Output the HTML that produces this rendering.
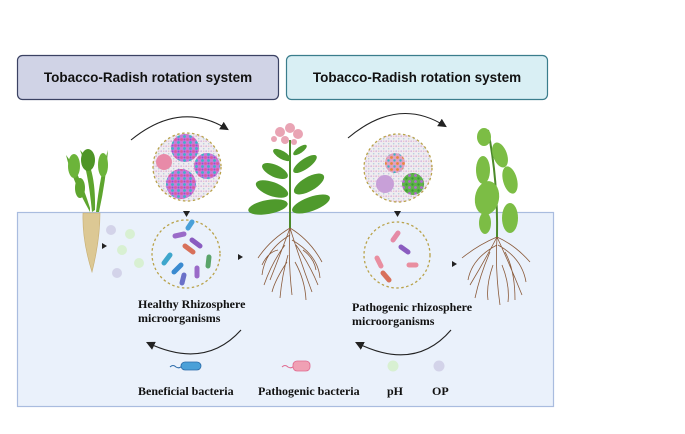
<!DOCTYPE html>
<html><head><meta charset="utf-8"><style>
html,body{margin:0;padding:0;background:#fff;}
svg{display:block;}
text{font-family:"Liberation Serif",serif;font-weight:bold;fill:#111;}
.h{font-family:"Liberation Sans",sans-serif;font-size:13.5px;}
</style></head><body>
<svg width="685" height="434" viewBox="0 0 685 434" xmlns="http://www.w3.org/2000/svg">
<defs>
<marker id="ah" markerWidth="8" markerHeight="8" refX="6" refY="4" orient="auto"><path d="M0,0 L8,4 L0,8 z" fill="#222"/></marker>
<pattern id="dp" width="6" height="6" patternUnits="userSpaceOnUse">
<rect width="6" height="6" fill="#c77ad8"/>
<circle cx="1.5" cy="1.5" r="1.4" fill="#e05a9a"/><circle cx="4.5" cy="4.5" r="1.4" fill="#3cb4c8"/><circle cx="4.5" cy="1.5" r="1" fill="#9b4fd0"/>
</pattern>
<pattern id="dg" width="6" height="6" patternUnits="userSpaceOnUse">
<rect width="6" height="6" fill="#5fb24a"/>
<circle cx="1.5" cy="1.5" r="1.4" fill="#b06ad0"/><circle cx="4.5" cy="4.5" r="1.2" fill="#3a9a34"/>
</pattern>
<pattern id="do" width="6" height="6" patternUnits="userSpaceOnUse">
<rect width="6" height="6" fill="#e0a0c0"/>
<circle cx="1.5" cy="1.5" r="1.4" fill="#e8883a"/><circle cx="4.5" cy="4.5" r="1.2" fill="#3cb4c8"/>
</pattern>
<pattern id="dl" width="5" height="5" patternUnits="userSpaceOnUse">
<rect width="5" height="5" fill="#efecf0"/>
<circle cx="1.2" cy="1.2" r="0.9" fill="#d8b8e0"/><circle cx="3.7" cy="3.7" r="0.8" fill="#b8d0dc"/><circle cx="3.7" cy="1.2" r="0.7" fill="#ecb8c4"/>
</pattern>
</defs>
<rect x="17.5" y="55.5" width="261" height="44" rx="5" fill="#d0d3e6" stroke="#3b4263" stroke-width="1.2"/>
<text class="h" x="148" y="82" text-anchor="middle">Tobacco-Radish  rotation system</text>
<rect x="286.5" y="55.5" width="261" height="44" rx="5" fill="#d9eff4" stroke="#3a7d8c" stroke-width="1.2"/>
<text class="h" x="417" y="82" text-anchor="middle">Tobacco-Radish  rotation system</text>
<rect x="17.5" y="212.5" width="536" height="194" fill="#eaf1fb" stroke="#a9bcdf" stroke-width="1.2"/>
<path d="M131,140 Q180,100 227,129" fill="none" stroke="#222" stroke-width="1.1" marker-end="url(#ah)"/>
<path d="M348,138 Q398,96 445,126" fill="none" stroke="#222" stroke-width="1.1" marker-end="url(#ah)"/>
<path d="M241,330 Q205,370 148,343" fill="none" stroke="#222" stroke-width="1.1" marker-end="url(#ah)"/>
<path d="M451,330 Q415,372 357,343" fill="none" stroke="#222" stroke-width="1.1" marker-end="url(#ah)"/>
<circle cx="187" cy="167" r="34" fill="url(#dl)" stroke="#b9a24a" stroke-width="1.3" stroke-dasharray="2.5 2.5"/>
<circle cx="185" cy="148" r="14" fill="url(#dp)"/>
<circle cx="207" cy="166" r="13" fill="url(#dp)"/>
<circle cx="181" cy="184" r="15" fill="url(#dp)"/>
<circle cx="164" cy="162" r="8" fill="#e88aa8"/>
<circle cx="398" cy="168" r="34" fill="url(#dl)" stroke="#b9a24a" stroke-width="1.3" stroke-dasharray="2.5 2.5"/>
<circle cx="395" cy="163" r="10" fill="url(#do)"/>
<circle cx="413" cy="184" r="11" fill="url(#dg)"/>
<circle cx="385" cy="184" r="9" fill="#c8a0d8"/>
<path d="M183,211 L190,211 L186.5,217 z" fill="#222"/>
<path d="M394,211 L401,211 L397.5,217 z" fill="#222"/>
<path d="M102,243 L107,246 L102,249 z" fill="#222"/>
<path d="M238,254 L243,257 L238,260 z" fill="#222"/>
<path d="M452,261 L457,264 L452,267 z" fill="#222"/>
<circle cx="186" cy="254" r="34" fill="none" stroke="#b9a24a" stroke-width="1.3" stroke-dasharray="2.5 2.5"/>
<g stroke-linecap="round" stroke-width="5">
<line x1="175" y1="236" x2="184" y2="234" stroke="#9a6ac8"/>
<line x1="188" y1="228" x2="192" y2="222" stroke="#4aa0d8"/>
<line x1="192" y1="240" x2="200" y2="246" stroke="#8a5cc0"/>
<line x1="185" y1="246" x2="193" y2="252" stroke="#d8705a"/>
<line x1="164" y1="263" x2="170" y2="255" stroke="#3ea6cc"/>
<line x1="174" y1="272" x2="181" y2="265" stroke="#3a8ad0"/>
<line x1="182" y1="283" x2="184" y2="275" stroke="#6a70c8"/>
<line x1="197" y1="276" x2="197" y2="268" stroke="#9a6ac8"/>
<line x1="208" y1="266" x2="209" y2="257" stroke="#5aa46a"/>
</g>
<circle cx="397" cy="255" r="33" fill="none" stroke="#b9a24a" stroke-width="1.3" stroke-dasharray="2.5 2.5"/>
<g stroke-linecap="round" stroke-width="5">
<line x1="393" y1="240" x2="398" y2="233" stroke="#e58aa6"/>
<line x1="377" y1="258" x2="381" y2="266" stroke="#e98ea0"/>
<line x1="401" y1="247" x2="408" y2="252" stroke="#8a5cc0"/>
<line x1="409" y1="265" x2="416" y2="265" stroke="#e98ea0"/>
<line x1="383" y1="273" x2="389" y2="280" stroke="#d8705a"/>
</g>
<circle cx="111" cy="230" r="5" fill="#d3d3e9"/>
<circle cx="130" cy="234" r="5" fill="#d8f0d2"/>
<circle cx="122" cy="250" r="5" fill="#d8f0d2"/>
<circle cx="139" cy="263" r="5" fill="#d8f0d2"/>
<circle cx="117" cy="273" r="5" fill="#d3d3e9"/>
<g fill="#5ea52e">
<path d="M90,212 Q72,180 66,155 Q78,170 90,208 z"/>
<path d="M92,212 Q88,170 80,150 Q96,165 95,210 z"/>
<path d="M96,212 Q100,175 108,150 Q106,180 99,212 z"/>
<ellipse cx="74" cy="166" rx="6" ry="12" fill="#6cb43a"/>
<ellipse cx="88" cy="160" rx="7" ry="11" fill="#4e9526"/>
<ellipse cx="103" cy="165" rx="5" ry="12" fill="#6cb43a"/>
<ellipse cx="80" cy="188" rx="5" ry="10" fill="#5ea52e"/>
</g>
<path d="M83,213 Q82,240 92,272 Q100,240 100,213 z" fill="#dcc894" stroke="#c7ae70" stroke-width="0.6"/>
<g stroke="#8a5a3a" stroke-width="0.8" fill="none">
<path d="M290,228 Q280,255 270,280 M290,228 Q300,260 312,292 M290,228 Q288,260 292,295 M290,228 Q270,240 258,258 M290,228 Q310,240 322,262 M285,245 Q272,262 264,285 M296,245 Q310,265 318,285 M288,255 Q282,275 280,298 M290,235 Q265,250 262,275 M292,240 Q318,255 320,278 M287,262 Q275,280 272,292 M295,262 Q305,280 306,300 M278,250 Q268,252 262,265 M303,250 Q314,258 316,270"/>
</g>
<path d="M290,228 L290,140" stroke="#4c8a2a" stroke-width="2"/>
<g fill="#4f9a2c">
<ellipse cx="268" cy="207" rx="20" ry="7" transform="rotate(-10 268 207)"/>
<ellipse cx="311" cy="204" rx="20" ry="7" transform="rotate(-20 311 204)"/>
<ellipse cx="272" cy="189" rx="17" ry="7" transform="rotate(20 272 189)"/>
<ellipse cx="309" cy="184" rx="17" ry="7" transform="rotate(-30 309 184)"/>
<ellipse cx="275" cy="171" rx="14" ry="6" transform="rotate(25 275 171)"/>
<ellipse cx="305" cy="164" rx="14" ry="5" transform="rotate(-35 305 164)"/>
<ellipse cx="282" cy="155" rx="10" ry="4" transform="rotate(30 282 155)"/>
<ellipse cx="300" cy="150" rx="8" ry="3" transform="rotate(-35 300 150)"/>
</g>
<g fill="#e9a4b4">
<circle cx="280" cy="132" r="5"/><circle cx="290" cy="128" r="5"/><circle cx="298" cy="134" r="5"/><circle cx="285" cy="140" r="4"/><circle cx="274" cy="139" r="3"/><circle cx="294" cy="142" r="3"/>
</g>
<g stroke="#8a5a3a" stroke-width="0.8" fill="none">
<path d="M497,237 Q485,260 470,285 M497,237 Q510,265 522,295 M497,237 Q495,270 500,305 M497,237 Q478,245 462,258 M497,237 Q515,245 530,262 M490,252 Q480,275 475,298 M505,252 Q515,270 515,300 M497,245 Q472,258 468,280 M498,245 Q522,258 526,282 M493,265 Q486,285 488,300 M502,265 Q510,285 508,302"/>
</g>
<path d="M497,237 Q498,180 488,130" stroke="#4c8a2a" stroke-width="2" fill="none"/>
<g fill="#7cbd45">
<ellipse cx="484" cy="137" rx="7" ry="9"/>
<ellipse cx="500" cy="155" rx="7" ry="13" transform="rotate(-20 500 155)"/>
<ellipse cx="483" cy="170" rx="7" ry="14"/>
<ellipse cx="510" cy="180" rx="7" ry="14" transform="rotate(-15 510 180)"/>
<ellipse cx="487" cy="198" rx="12" ry="17" transform="rotate(10 487 198)"/>
<ellipse cx="510" cy="218" rx="8" ry="15"/>
<ellipse cx="485" cy="223" rx="6" ry="11"/>
</g>
<text x="138" y="308" font-size="12">Healthy Rhizosphere</text>
<text x="138" y="322" font-size="12">microorganisms</text>
<text x="352" y="311" font-size="12">Pathogenic rhizosphere</text>
<text x="352" y="325" font-size="12">microorganisms</text>
<path d="M170,367 Q173,364 176,367 Q179,369 182,366" stroke="#2a6aa8" fill="none" stroke-width="1"/>
<rect x="181" y="362" width="20" height="8" rx="4" fill="#4aa0d8" stroke="#2a6aa8" stroke-width="0.8"/>
<path d="M282,367 Q285,364 288,367 Q291,369 294,366" stroke="#e06a90" fill="none" stroke-width="1"/>
<rect x="293" y="361" width="17" height="10" rx="4" fill="#f0a0b4" stroke="#e06a90" stroke-width="0.8"/>
<circle cx="393" cy="366" r="5.5" fill="#d8f0d2"/>
<circle cx="439" cy="366" r="5.5" fill="#d3d3e9"/>
<text x="138" y="395" font-size="12">Beneficial bacteria</text>
<text x="258" y="395" font-size="12">Pathogenic bacteria</text>
<text x="387" y="395" font-size="12">pH</text>
<text x="432" y="395" font-size="12">OP</text>
</svg>
</body></html>
